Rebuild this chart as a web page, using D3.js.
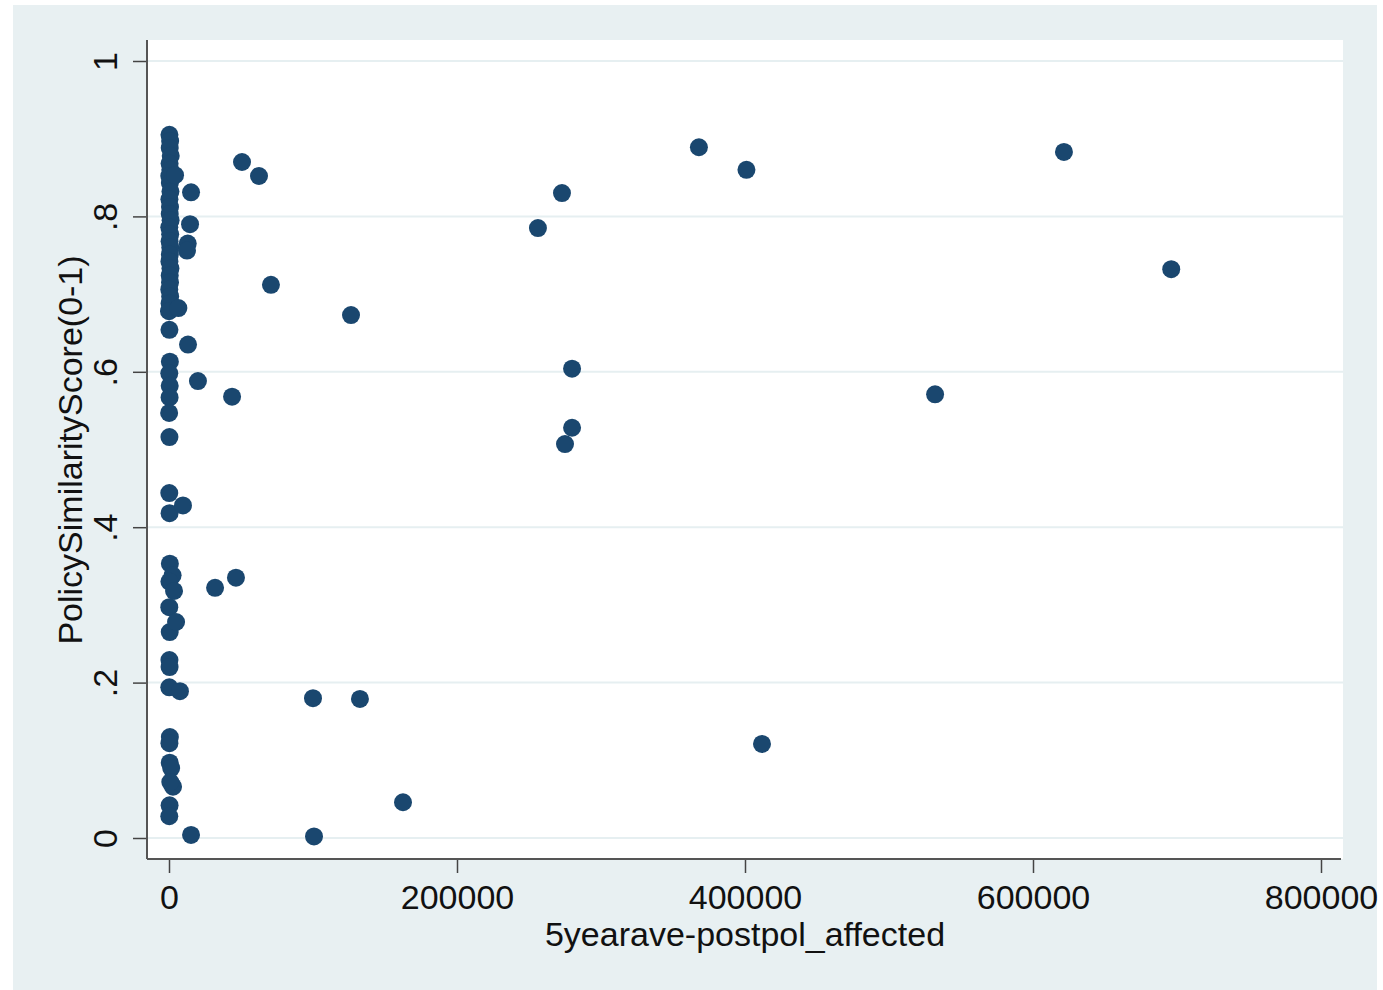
<html>
<head>
<meta charset="UTF-8">
<title>PolicySimilarityScore scatter</title>
<style>
body { margin: 0; background: #ffffff; }
text { font-family: "Liberation Sans", Arial, Helvetica, sans-serif; fill: #111; }
</style>
</head>
<body>
<div id="chart"></div>
<script src="https://d3js.org/d3.v7.min.js"></script>
<script>
// points sitting on (or very near) x = 0
var colX = [300, 800, 500, 1200, 400, 900, 200, 600, 1000, 300, 700, 500, 1100, 200, 800, 400, 900, 600, 300, 1000, 500, 700, 200, 800, 400, 0,
            300, 600, 200, 500, 400, 100, 300, 200, 400, 600, 2500, 300, 200, 500, 300, 400, 200, 600, 300, 500, 1500, 2800, 900, 400];
var colY = [0.905, 0.897, 0.888, 0.878, 0.868, 0.860, 0.852, 0.843, 0.832, 0.822, 0.812, 0.803, 0.795, 0.786, 0.777, 0.768, 0.760, 0.751, 0.742, 0.733, 0.724, 0.715, 0.706, 0.697, 0.688, 0.678,
            0.654, 0.613, 0.598, 0.582, 0.567, 0.547, 0.516, 0.444, 0.418, 0.353, 0.338, 0.330, 0.297, 0.265, 0.229, 0.220, 0.194, 0.130, 0.122, 0.097, 0.090, 0.066, 0.072, 0.042];
var colExtraY = [0.028];

// points away from zero
var farX = [368000, 401000, 621500, 696000, 532000, 411800, 162500, 100700, 15300, 100000, 132600, 272900, 256200, 279900, 279900, 275000,
            126400, 70800, 50700, 62500, 43800, 46500, 32000, 20100, 13200, 15300, 14600, 13000, 12500, 6500, 9700, 4200, 3500, 4900, 7600];
var farY = [0.889, 0.860, 0.883, 0.732, 0.571, 0.121, 0.046, 0.002, 0.004, 0.180, 0.179, 0.830, 0.785, 0.604, 0.528, 0.507,
            0.673, 0.712, 0.870, 0.852, 0.568, 0.335, 0.322, 0.588, 0.635, 0.831, 0.790, 0.765, 0.756, 0.682, 0.428, 0.853, 0.318, 0.278, 0.189];

var xTicks = [0, 200000, 400000, 600000, 800000];
var yTicks = [0, 0.2, 0.4, 0.6, 0.8, 1];

var points = [];
colX.forEach(function(d, i){ points.push({x: d, y: colY[i]}); });
colExtraY.forEach(function(d){ points.push({x: 200, y: d}); });
farX.forEach(function(d, i){ points.push({x: d, y: farY[i]}); });

var width = 1383, height = 990;
var svg = d3.select("#chart").append("svg")
    .attr("width", width)
    .attr("height", height);

// outer graph region
svg.append("rect")
    .attr("x", 13).attr("y", 5)
    .attr("width", 1364).attr("height", 985)
    .attr("fill", "#e8f0f2");

// plot region
var plotLeft = 147, plotRight = 1343, plotTop = 40, plotBottom = 859;
svg.append("rect")
    .attr("x", plotLeft).attr("y", plotTop)
    .attr("width", plotRight - plotLeft).attr("height", plotBottom - plotTop)
    .attr("fill", "#ffffff");

var x = d3.scaleLinear().domain([0, 800000]).range([169, 1321]);
var y = d3.scaleLinear().domain([0, 1]).range([838, 61]);

// grid
svg.append("g").selectAll("line")
    .data(yTicks)
    .enter().append("line")
    .attr("x1", plotLeft + 1).attr("x2", plotRight)
    .attr("y1", function(d){ return y(d); })
    .attr("y2", function(d){ return y(d); })
    .attr("stroke", "#e6eff1")
    .attr("stroke-width", 2);

// axes
var xAxis = svg.append("g")
    .attr("transform", "translate(0," + plotBottom + ")")
    .call(d3.axisBottom(x).tickValues(xTicks).tickFormat(d3.format("d")).tickSizeOuter(0).tickSize(14));
xAxis.select(".domain").remove();
xAxis.selectAll("line").attr("stroke", "#444").attr("stroke-width", 1.5);
xAxis.selectAll("text")
    .attr("y", 50).attr("dy", 0)
    .style("font-size", "34px")
    .style("font-family", "'Liberation Sans', Arial, sans-serif")
    .attr("fill", "#111");

var yFmt = function(d){
    if (d === 0) return "0";
    if (d === 1) return "1";
    return d3.format(".1f")(d).replace("0.", ".");
};
var yAxis = svg.append("g")
    .attr("transform", "translate(" + plotLeft + ",0)")
    .call(d3.axisLeft(y).tickValues(yTicks).tickFormat(yFmt).tickSizeOuter(0).tickSize(14));
yAxis.select(".domain").remove();
yAxis.selectAll("line").attr("stroke", "#444").attr("stroke-width", 1.5);
yAxis.selectAll("text")
    .attr("x", 0).attr("y", -30).attr("dy", 0)
    .attr("transform", "rotate(-90)")
    .attr("text-anchor", "middle")
    .style("font-size", "34px")
    .style("font-family", "'Liberation Sans', Arial, sans-serif")
    .attr("fill", "#111");

svg.append("line")
    .attr("x1", plotLeft).attr("x2", plotLeft)
    .attr("y1", plotTop).attr("y2", plotBottom)
    .attr("stroke", "#555").attr("stroke-width", 2);
svg.append("line")
    .attr("x1", plotLeft).attr("x2", plotRight - 2)
    .attr("y1", plotBottom).attr("y2", plotBottom)
    .attr("stroke", "#555").attr("stroke-width", 2);

// titles
svg.append("text")
    .attr("x", 745).attr("y", 946)
    .attr("text-anchor", "middle")
    .style("font-size", "34px")
    .text("5yearave-postpol_affected");

svg.append("text")
    .attr("transform", "translate(82,450) rotate(-90)")
    .attr("text-anchor", "middle")
    .style("font-size", "34px")
    .text("PolicySimilarityScore(0-1)");

// markers
svg.append("g").selectAll("circle")
    .data(points)
    .enter().append("circle")
    .attr("cx", function(d){ return x(d.x); })
    .attr("cy", function(d){ return y(d.y); })
    .attr("r", 9)
    .attr("fill", "#1a476f");
</script>
</body>
</html>
